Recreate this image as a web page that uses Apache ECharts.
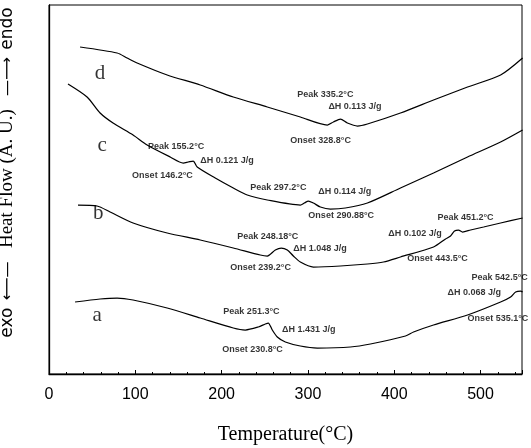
<!DOCTYPE html>
<html>
<head>
<meta charset="utf-8">
<script src="https://cdn.jsdelivr.net/npm/echarts@6/dist/echarts.min.js"></script>
<style>
html,body{margin:0;padding:0;background:#fff;}
#chart{width:531px;height:448px;}
</style>
</head>
<body>
<div id="chart"></div>
<script>
// Temperature (°C) and relative heat flow (arbitrary units)
const curveD = [[36.0,327],[78.9,321],[90.5,316],[102.1,311],[136.9,299],[175.2,289],[213.5,277],[252.9,267],[291.2,257],[322.5,249],[329.5,252],[337.6,255],[345.7,251],[357.3,248],[368.9,250],[407.2,261],[445.5,274],[484.9,287],[523.2,299],[548.7,316]];
const curveC = [[22.0,290],[44.1,277],[59.2,261],[74.2,251],[97.4,239],[113.7,229],[140.4,217],[155.5,211],[161.3,212],[167.1,213],[171.7,207],[192.6,196],[213.5,186],[229.7,179],[252.9,174],[291.2,169],[295.8,171],[300.5,173],[306.3,171],[314.4,167],[326.0,165],[343.4,166],[368.9,171],[407.2,186],[445.5,201],[484.9,217],[523.2,232],[548.7,244]];
const curveB = [[33.6,169],[55.7,168],[70.8,162],[97.4,151],[136.9,141],[175.2,134],[213.5,126],[244.8,119],[252.9,118],[262.2,124],[269.1,126],[276.1,124],[283.1,118],[291.2,112],[306.3,107],[337.6,108],[368.9,110],[387.5,112],[407.2,117],[445.5,127],[459.4,135],[465.2,138],[469.8,143],[474.5,144],[479.1,142],[488.4,144],[503.5,147],[523.2,151],[548.7,156]];
const curveA = [[30.2,72],[59.2,75],[78.9,76],[97.4,74],[136.9,66],[175.2,56],[213.5,46],[227.4,44],[242.5,47],[250.6,50],[254.1,51],[258.7,44],[264.5,37],[273.8,32],[291.2,28],[310.9,26],[349.2,27],[372.4,30],[413.0,38],[422.3,42],[445.5,49],[484.9,59],[523.2,72],[534.8,77],[540.6,82],[546.4,83],[548.7,82]];

const curveNames = [["d",59,301],["c",61.5,229],["b",57,161],["a",55.7,59]];

const annotations = [
  ["Peak 335.2°C",287.7,279],["ΔH 0.113 J/g",323.7,267],["Onset 328.8°C",279.6,233],
  ["Peak 155.2°C",114.8,227],["ΔH 0.121 J/g",175.2,213],["Onset 146.2°C",96.3,198],
  ["Peak 297.2°C",233.2,186],["ΔH 0.114 J/g",312,182],["Onset 290.88°C",300.5,158],
  ["Peak 248.18°C",218,137],["ΔH 1.048 J/g",283,125],["Onset 239.2°C",210,106],
  ["Peak 451.2°C",450,156],["ΔH 0.102 J/g",393,140],["Onset 443.5°C",415,115],
  ["Peak 542.5°C",489.6,96],["ΔH 0.068 J/g",461.7,81],["Onset 535.1°C",485,55],
  ["Peak 251.3°C",202,62],["ΔH 1.431 J/g",270,44],["Onset 230.8°C",200.7,24]
];

const xTicks = [0,100,200,300,400,500];

const chart = echarts.init(document.getElementById('chart'));
function lineSeries(data){
  return {type:'line',data:data,showSymbol:false,symbol:'none',smooth:0.25,
    lineStyle:{color:'#000',width:1.25},z:3,silent:true};
}
const option = {
  animation:false,
  backgroundColor:'#fff',
  grid:{left:49,right:9,top:5,bottom:74,show:true,borderColor:'#000',borderWidth:1,
    containLabel:false,outerBoundsMode:'none'},
  xAxis:{type:'value',min:0,max:548,interval:100,
    name:'Temperature(°C)',nameLocation:'middle',nameGap:51,
    nameTextStyle:{fontFamily:'Liberation Serif',fontSize:20,color:'#000'},
    axisLine:{lineStyle:{color:'#000',width:1.3}},
    axisTick:{inside:true,length:4,lineStyle:{color:'#000'}},
    minorTick:{show:true,splitNumber:5,length:2,lineStyle:{color:'#000'}},
    splitLine:{show:false},
    axisLabel:{margin:13,fontFamily:'Liberation Sans',fontSize:16,color:'#000',
      formatter:function(v){return xTicks.indexOf(v)>=0?String(v):'';}}
  },
  yAxis:{type:'value',min:0,max:369,
    name:'{s|exo} {a|⟵—} {h|Heat Flow (A. U.)} {a|—⟶} {e|endo}',
    nameLocation:'middle',nameRotate:90,nameGap:32,
    nameTextStyle:{color:'#000',rich:{
      s:{fontFamily:'DejaVu Sans',fontSize:17,color:'#000',padding:[0,0,0,34]},
      e:{fontFamily:'DejaVu Sans',fontSize:17,color:'#000'},
      a:{fontFamily:'DejaVu Sans',fontSize:16,color:'#000',padding:[0,4,0,4]},
      h:{fontFamily:'Liberation Serif',fontSize:19,color:'#000',padding:[0,6,0,6]}}},
    axisLine:{show:true,lineStyle:{color:'#000',width:1.3}},
    axisTick:{show:false},axisLabel:{show:false},splitLine:{show:false}
  },
  series:[
    lineSeries(curveD),lineSeries(curveC),lineSeries(curveB),lineSeries(curveA),
    {type:'scatter',symbolSize:0,silent:true,z:4,
      data:curveNames.map(function(c){return {name:c[0],value:[c[1],c[2]]};}),
      label:{show:true,position:'inside',formatter:'{b}',
        fontFamily:'Liberation Serif',fontSize:21,color:'#000'}},
    {type:'scatter',symbolSize:0,silent:true,z:4,
      data:annotations.map(function(a){return {name:a[0],value:[a[1],a[2]]};}),
      label:{show:true,position:'right',distance:0,formatter:'{b}',
        fontFamily:'Liberation Sans',fontWeight:'bold',fontSize:9,color:'#000'}}
  ]
};
chart.setOption(option);
</script>
</body>
</html>
